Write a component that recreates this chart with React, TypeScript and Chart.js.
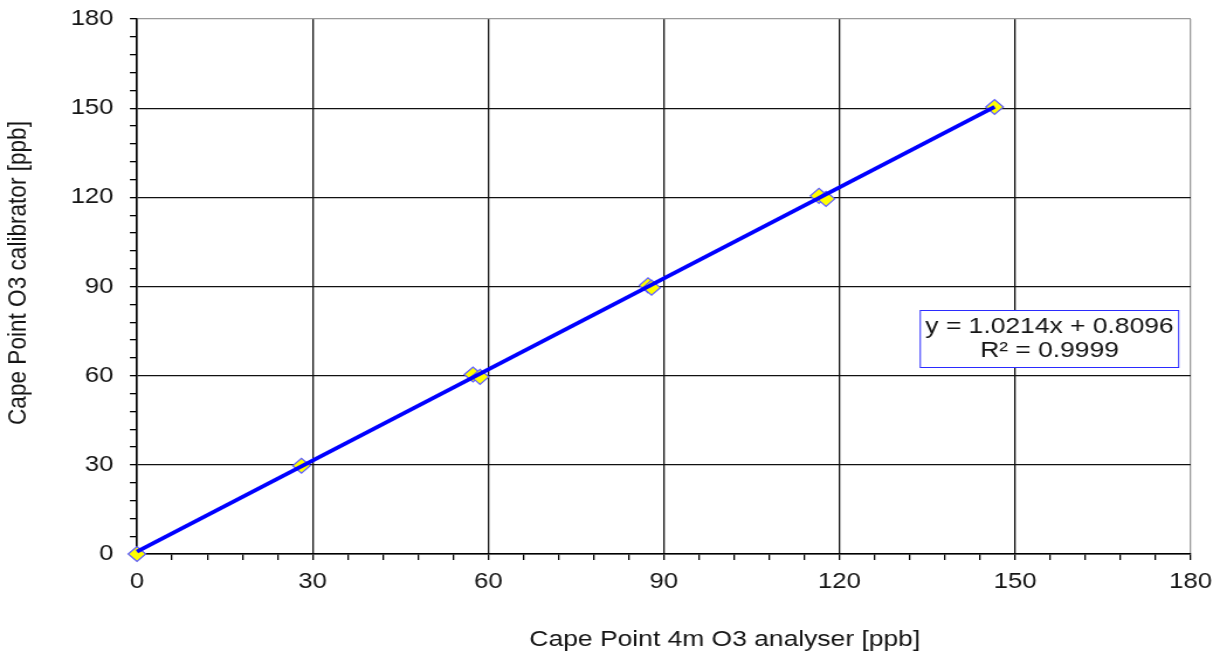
import { useEffect, useRef } from "react";
import { Chart, registerables } from "chart.js";

Chart.register(...registerables);

// Calibration points: analyser reading vs. calibrator setpoint (ppb)
const analyserPpb = [0, 28.1, 57.4, 58.6, 87.3, 87.9, 116.5, 117.7, 146.5];
const calibratorPpb = [0, 29.7, 60.4, 59.6, 90.4, 89.6, 120.5, 119.5, 150.4];

// Linear fit
const fitSlope = 1.0214;
const fitIntercept = 0.8096;
const fitR2 = 0.9999;
const fitRange = [0, 146.5];

// Axis setup
const axisMin = 0;
const axisMax = 180;
const majorStep = 30;
const minorStep = 6;

const xTitle = "Cape Point 4m O3 analyser [ppb]";
const yTitle = "Cape Point O3 calibrator [ppb]";
const eqLine1 = `y = ${fitSlope.toFixed(4)}x + ${fitIntercept.toFixed(4)}`;
const eqLine2 = `R² = ${fitR2.toFixed(4)}`;

// The drawing surface is rendered narrower and widened by CSS, giving the
// horizontally stretched look of the exported chart.
const VIEW_W = 1220;
const VIEW_H = 656;
const STRETCH = 1.17;
const CANVAS_W = Math.round(VIEW_W / STRETCH);

const FONT = "'Liberation Sans', Arial, sans-serif";
const TEXT = "#151515";

const overlayPlugin = {
  id: "overlayText",
  afterDraw(chart: any) {
    const ctx = chart.ctx as CanvasRenderingContext2D;
    ctx.save();
    ctx.fillStyle = TEXT;
    ctx.font = `22.6px ${FONT}`;
    ctx.textAlign = "center";
    ctx.textBaseline = "middle";
    // axis titles
    ctx.fillText(xTitle, 725 / STRETCH, 640);
    ctx.save();
    ctx.translate(18 / STRETCH, 273);
    ctx.rotate(-Math.PI / 2);
    ctx.fillText(yTitle, 0, 0);
    ctx.restore();

    // regression equation box
    const bx = 920.5 / STRETCH;
    const bw = (1179 - 920.5) / STRETCH;
    const by = 310.5;
    const bh = 57;
    ctx.fillStyle = "#ffffff";
    ctx.fillRect(bx, by, bw, bh);
    ctx.strokeStyle = "#2b2bff";
    ctx.lineWidth = 1;
    ctx.strokeRect(bx, by, bw, bh);
    ctx.fillStyle = TEXT;
    const cx = bx + bw / 2;
    ctx.fillText(eqLine1, cx, 327);
    ctx.fillText(eqLine2, cx, 351);
    ctx.restore();
  },
};

function gridColor(ctx: any) {
  const v = ctx.tick ? ctx.tick.value : 0;
  if (v % majorStep !== 0) return "rgba(0,0,0,0)";
  if (v === axisMax) return "#9a9a9a";
  return "#111111";
}

function tickLabel(value: any) {
  return Number(value) % majorStep === 0 ? String(value) : "";
}

function clearScalePadding(scale: any) {
  scale.paddingTop = 0;
  scale.paddingBottom = 0;
  scale.paddingLeft = 0;
  scale.paddingRight = 0;
}

export default function App() {
  const canvasRef = useRef<HTMLCanvasElement | null>(null);

  useEffect(() => {
    document.body.style.margin = "0";
    const canvas = canvasRef.current;
    if (!canvas) return;

    const fitPoints = fitRange.map((x) => ({ x, y: fitSlope * x + fitIntercept }));
    const calPoints = analyserPpb.map((x, i) => ({ x, y: calibratorPpb[i] }));

    const chart = new Chart(canvas, {
      type: "scatter",
      data: {
        datasets: [
          {
            label: "fit",
            data: fitPoints,
            showLine: true,
            borderColor: "#0000ff",
            borderWidth: 3.8,
            pointRadius: 0,
            order: 0,
            clip: false as any,
          },
          {
            label: "calibration",
            data: calPoints,
            pointStyle: "rectRot",
            pointRadius: 7.5,
            backgroundColor: "#ffff00",
            borderColor: "#5c5cff",
            borderWidth: 1.2,
            order: 1,
            clip: false as any,
          },
        ],
      },
      options: {
        responsive: false,
        devicePixelRatio: 1,
        animation: false,
        layout: {
          padding: { top: 19, right: CANVAS_W - 1191 / STRETCH, left: 0, bottom: 0 },
        },
        plugins: {
          legend: { display: false },
          tooltip: { enabled: false },
        },
        scales: {
          x: {
            type: "linear",
            min: axisMin,
            max: axisMax,
            afterFit: (scale: any) => {
              scale.height = VIEW_H - 554;
              clearScalePadding(scale);
            },
            border: { color: "#000000", width: 1.5 },
            grid: {
              color: gridColor,
              tickColor: "#000000",
              tickLength: 6,
              lineWidth: 1.3,
            },
            ticks: {
              stepSize: minorStep,
              maxTicksLimit: 1000,
              autoSkip: false,
              maxRotation: 0,
              padding: 9,
              color: TEXT,
              font: { family: FONT, size: 22 },
              callback: tickLabel,
            },
          },
          y: {
            type: "linear",
            min: axisMin,
            max: axisMax,
            afterFit: (scale: any) => {
              scale.width = 137 / STRETCH;
              clearScalePadding(scale);
            },
            border: { color: "#000000", width: 1.5 },
            grid: {
              color: gridColor,
              tickColor: "#000000",
              tickLength: 6,
              lineWidth: 1.3,
            },
            ticks: {
              stepSize: minorStep,
              maxTicksLimit: 1000,
              autoSkip: false,
              padding: 14,
              color: TEXT,
              font: { family: FONT, size: 22 },
              callback: tickLabel,
            },
          },
        },
      },
      plugins: [overlayPlugin],
    } as any);

    return () => chart.destroy();
  }, []);

  return (
    <div style={{ width: VIEW_W, height: VIEW_H, background: "#ffffff" }}>
      <canvas
        ref={canvasRef}
        width={CANVAS_W}
        height={VIEW_H}
        style={{ width: `${VIEW_W}px`, height: `${VIEW_H}px`, display: "block" }}
      />
    </div>
  );
}
